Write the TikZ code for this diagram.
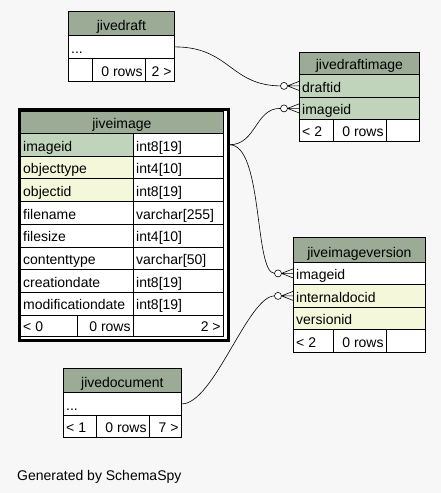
\documentclass[tikz,border=0pt]{standalone}
\usepackage{fontspec}
\setmainfont{Liberation Sans}
\definecolor{bgc}{HTML}{F7F7F7}
\definecolor{hdr}{HTML}{9BAB96}
\definecolor{pkc}{HTML}{BFD4BB}
\definecolor{idx}{HTML}{F4F7DA}
\tikzset{
  box/.style={draw=black, rectangle, anchor=north west, inner sep=0pt, line width=0.8pt},
  txt/.style={inner sep=0pt, font=\fontsize{14}{16}\selectfont},
  atL/.style={anchor=base west, at={([xshift=3pt,yshift=5.5pt]#1.south west)}},
  atR/.style={anchor=base east, at={([xshift=-3pt,yshift=5.5pt]#1.south east)}},
  atC/.style={anchor=base, at={([yshift=5.5pt]#1.south)}},
  conn/.style={draw=black, line width=0.6pt},
  frame/.style={draw=black, fill=white, line width=3pt, rectangle, anchor=north west, inner sep=0pt},
}
% name, x, y, w, h, fill, L/R/C, text
\newcommand\cell[8]{%
  \node[box, fill=#6, minimum width=#4, minimum height=#5] (#1) at (#2,#3) {};
  \node[txt, at#7=#1] (#1-t) {#8};}
\newcommand\crow[2]{%
  \coordinate (#2) at ([xshift=-18.5pt]#1.west);
  \draw[conn] ([xshift=-11.5pt]#1.west) -- ([yshift=4.5pt]#1.west)
              ([xshift=-11.5pt]#1.west) -- (#1.west)
              ([xshift=-11.5pt]#1.west) -- ([yshift=-4.5pt]#1.west);
  \draw[conn, fill=white] ([xshift=-15pt]#1.west) circle (3.5pt);}
\begin{document}
\begin{tikzpicture}[x=1pt, y=-1pt]
\fill[bgc] (0,0) rectangle (441,493);
\useasboundingbox (0,0) rectangle (441,493);

% jivedraft
\cell{jd-h}{68}{11}{106}{24}{hdr}{C}{jivedraft}
\cell{jd-r}{68}{35}{106}{23}{white}{L}{...}
\cell{jd-f1}{68}{58}{24}{23}{white}{L}{}
\cell{jd-f2}{92}{58}{53}{23}{white}{R}{0 rows}
\cell{jd-f3}{145}{58}{29}{23}{white}{R}{2 >}

% jivedraftimage
\cell{di-h}{299}{52}{120}{22}{hdr}{C}{jivedraftimage}
\cell{di-draft}{299}{74}{120}{23}{pkc}{L}{draftid}
\cell{di-img}{299}{97}{120}{22}{pkc}{L}{imageid}
\cell{di-f1}{299}{119}{34}{22}{white}{L}{< 2}
\cell{di-f2}{333}{119}{53}{22}{white}{R}{0 rows}
\cell{di-f3}{386}{119}{33}{22}{white}{R}{}

% jiveimage
\node[frame, minimum width=209, minimum height=230.5] (ji-frame) at (17.5,108) {};
\cell{ji-h}{20}{111}{203}{22}{hdr}{C}{jiveimage}
\cell{ji-id}{20}{133}{113}{22.7}{pkc}{L}{imageid}
\cell{ji-idT}{133}{133}{90}{22.7}{white}{L}{int8[19]}
\cell{ji-ot}{20}{155.7}{113}{22.7}{idx}{L}{objecttype}
\cell{ji-otT}{133}{155.7}{90}{22.7}{white}{L}{int4[10]}
\cell{ji-oi}{20}{178.4}{113}{22.7}{idx}{L}{objectid}
\cell{ji-oiT}{133}{178.4}{90}{22.7}{white}{L}{int8[19]}
\cell{ji-fn}{20}{201.1}{113}{22.7}{white}{L}{filename}
\cell{ji-fnT}{133}{201.1}{90}{22.7}{white}{L}{varchar[255]}
\cell{ji-fs}{20}{223.8}{113}{22.7}{white}{L}{filesize}
\cell{ji-fsT}{133}{223.8}{90}{22.7}{white}{L}{int4[10]}
\cell{ji-ct}{20}{246.5}{113}{22.7}{white}{L}{contenttype}
\cell{ji-ctT}{133}{246.5}{90}{22.7}{white}{L}{varchar[50]}
\cell{ji-cd}{20}{269.2}{113}{22.7}{white}{L}{creationdate}
\cell{ji-cdT}{133}{269.2}{90}{22.7}{white}{L}{int8[19]}
\cell{ji-md}{20}{291.9}{113}{22.7}{white}{L}{modificationdate}
\cell{ji-mdT}{133}{291.9}{90}{22.7}{white}{L}{int8[19]}
\cell{ji-f1}{20}{314.6}{57}{21.8}{white}{L}{< 0}
\cell{ji-f2}{77}{314.6}{56}{21.8}{white}{R}{0 rows}
\cell{ji-f3}{133}{314.6}{90}{21.8}{white}{R}{2 >}
\coordinate (jiout) at (ji-frame.east |- ji-id.center);

% jiveimageversion
\cell{jv-h}{293}{237}{132}{25}{hdr}{C}{jiveimageversion}
\cell{jv-img}{293}{262}{132}{22}{white}{L}{imageid}
\cell{jv-doc}{293}{284}{132}{23}{idx}{L}{internaldocid}
\cell{jv-ver}{293}{307}{132}{22}{idx}{L}{versionid}
\cell{jv-f1}{293}{329}{40}{23}{white}{L}{< 2}
\cell{jv-f2}{333}{329}{53}{23}{white}{R}{0 rows}
\cell{jv-f3}{386}{329}{39}{23}{white}{R}{}

% jivedocument
\cell{jdoc-h}{63}{368}{118}{24}{hdr}{C}{jivedocument}
\cell{jdoc-r}{63}{392}{118}{23}{white}{L}{...}
\cell{jdoc-f1}{63}{415}{33}{22}{white}{L}{< 1}
\cell{jdoc-f2}{96}{415}{53}{22}{white}{R}{0 rows}
\cell{jdoc-f3}{149}{415}{32}{22}{white}{R}{7 >}

% connectors
\draw[conn] (jd-r.east) .. controls ([xshift=55pt]jd-r.east) and (230,85.5) .. ([xshift=-18.5pt]di-draft.west);
\draw[conn] (jiout) .. controls ([xshift=27pt]jiout) and (255,108) .. ([xshift=-18.5pt]di-img.west);
\draw[conn] (jiout) .. controls ([xshift=34pt]jiout) and (254,273) .. ([xshift=-18.5pt]jv-img.west);
\draw[conn] (jdoc-r.east) .. controls ([xshift=32pt]jdoc-r.east) and (248,296) .. ([xshift=-18.5pt]jv-doc.west);
\crow{di-draft}{c1}
\crow{di-img}{c2}
\crow{jv-img}{c3}
\crow{jv-doc}{c4}

\node[txt, anchor=base west] (gen) at (17,480) {Generated by SchemaSpy};
\end{tikzpicture}
\end{document}
